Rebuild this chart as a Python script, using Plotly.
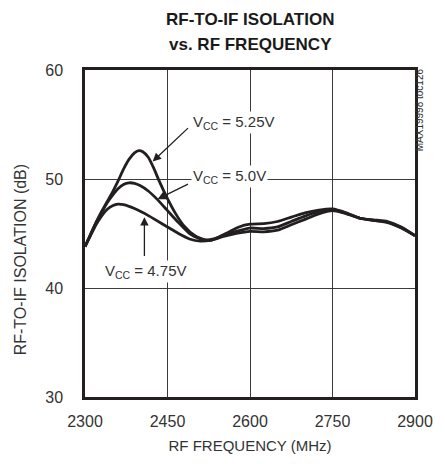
import plotly.graph_objects as go

# RF-to-IF isolation (dB) vs RF frequency (MHz) at three supply voltages
freq_525 = [2300, 2310, 2320, 2330, 2340, 2350, 2360, 2370, 2380, 2390, 2398, 2405, 2415, 2425,
            2435, 2450, 2465, 2480, 2500, 2520, 2540, 2560, 2580, 2600, 2625, 2650, 2675, 2700,
            2725, 2750, 2775, 2800, 2825, 2850, 2875, 2900]
iso_525 = [43.8, 44.9, 46.0, 47.0, 47.9, 48.8, 49.8, 50.9, 51.8, 52.4, 52.6, 52.5, 52.0, 51.0,
           49.8, 48.2, 46.8, 45.7, 44.8, 44.4, 44.6, 45.1, 45.6, 45.85, 45.9, 46.1, 46.5, 46.9,
           47.15, 47.25, 46.9, 46.4, 46.25, 46.1, 45.6, 44.8]

freq_500 = [2300, 2310, 2320, 2330, 2340, 2350, 2360, 2370, 2380, 2390, 2400, 2415, 2430, 2450,
            2470, 2490, 2510, 2530, 2550, 2575, 2600, 2625, 2650, 2675, 2700, 2725, 2750, 2775,
            2800, 2825, 2850, 2875, 2900]
iso_500 = [43.8, 44.9, 46.0, 46.9, 47.8, 48.5, 49.1, 49.5, 49.65, 49.6, 49.4, 48.9, 48.2, 47.1,
           46.0, 45.0, 44.5, 44.4, 44.8, 45.2, 45.5, 45.45, 45.6, 46.1, 46.6, 47.0, 47.2, 46.85,
           46.4, 46.2, 46.05, 45.55, 44.8]

freq_475 = [2300, 2310, 2320, 2330, 2340, 2350, 2360, 2370, 2390, 2410, 2430, 2450, 2470, 2490,
            2510, 2530, 2550, 2575, 2600, 2625, 2650, 2675, 2700, 2725, 2750, 2770, 2800, 2825,
            2850, 2875, 2900]
iso_475 = [43.8, 44.8, 45.8, 46.6, 47.2, 47.55, 47.7, 47.65, 47.3, 46.8, 46.2, 45.6, 45.0, 44.5,
           44.3, 44.4, 44.7, 45.0, 45.2, 45.15, 45.3, 45.8, 46.3, 46.8, 47.1, 46.9, 46.4, 46.2,
           46.0, 45.5, 44.8]

x_ticks = [2300, 2450, 2600, 2750, 2900]
y_ticks = [30, 40, 50, 60]

FONT = "Liberation Sans, Arial, sans-serif"
INK = "#231f20"
TXT = "#333333"

fig = go.Figure()
for fx, fy, name in [(freq_475, iso_475, "4.75V"), (freq_500, iso_500, "5.0V"),
                     (freq_525, iso_525, "5.25V")]:
    fig.add_trace(go.Scatter(x=fx, y=fy, mode="lines", name=name,
                             line=dict(color=INK, width=2.8, shape="spline", smoothing=0.6),
                             showlegend=False, hoverinfo="skip"))

axis_common = dict(showgrid=True, gridcolor="#3a3a3a", gridwidth=1,
                   showline=True, linecolor=INK, linewidth=2.5, mirror=True,
                   ticks="", zeroline=False,
                   tickfont=dict(family=FONT, size=16, color=TXT))

fig.update_xaxes(range=[2300, 2900], tickvals=x_ticks, ticklabelstandoff=8,
                 title=dict(text="RF FREQUENCY (MHz)",
                            font=dict(family=FONT, size=15, color=TXT), standoff=12),
                 **axis_common)
fig.update_yaxes(range=[30, 60], tickvals=y_ticks, ticklabelstandoff=16, **axis_common)

labels = [
    dict(x=2492, y=55.2, text="V<sub>CC</sub> = 5.25V"),
    dict(x=2492, y=50.25, text="V<sub>CC</sub> = 5.0V"),
    dict(x=2333, y=41.5, text="V<sub>CC</sub> = 4.75V"),
]
for a in labels:
    fig.add_annotation(xref="x", yref="y", showarrow=False, bgcolor="white",
                       font=dict(family=FONT, size=15, color=TXT), xanchor="left",
                       yanchor="middle", borderpad=1, **a)

# pointer arrows from labels to curves: (tail x, tail y, head x, head y)
arrows = [
    (2490, 54.8, 2423, 51.6),
    (2490, 49.6, 2432, 48.15),
    (2408, 42.8, 2408, 46.5),
]
for tx, ty, hx, hy in arrows:
    fig.add_annotation(x=hx, y=hy, ax=tx, ay=ty, xref="x", yref="y", axref="x", ayref="y",
                       text="", showarrow=True, arrowhead=2, arrowsize=1.3, arrowwidth=1.3,
                       arrowcolor=INK)

# two-line bold title
for yy, line in [(1.155, "RF-TO-IF ISOLATION"), (1.079, "vs. RF FREQUENCY")]:
    fig.add_annotation(xref="paper", yref="paper", x=0.5, y=yy, yanchor="middle",
                       text=f"<b>{line}</b>", showarrow=False,
                       font=dict(family=FONT, size=17, color="#1a1a1a"))

# y-axis title
fig.add_annotation(xref="paper", yref="paper", x=-0.195, xanchor="center", y=0.42,
                   text="RF-TO-IF ISOLATION (dB)",
                   textangle=-90, showarrow=False,
                   font=dict(family=FONT, size=16, color=TXT))
# figure id
fig.add_annotation(xref="paper", yref="paper", x=1.035, y=1.01, yanchor="top",
                   text="MAX19998 toc126", textangle=-90, showarrow=False,
                   font=dict(family=FONT, size=10, color=TXT))

fig.update_layout(
    width=445, height=464,
    margin=dict(l=85, r=28, t=70, b=65),
    paper_bgcolor="white", plot_bgcolor="white",
)

fig.write_html("out.html")
